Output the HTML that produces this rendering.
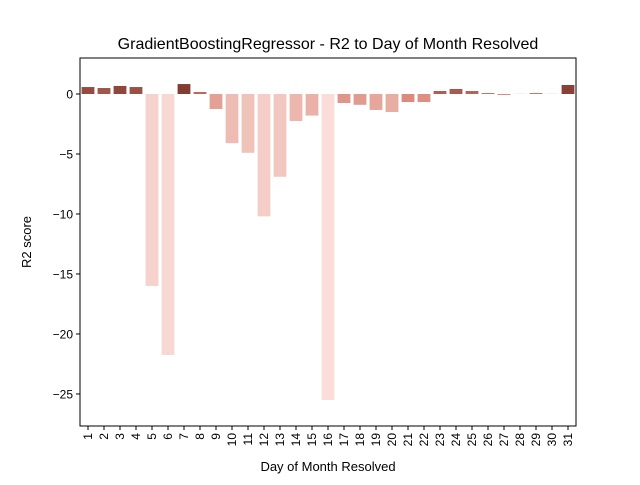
<!DOCTYPE html>
<html><head><meta charset="utf-8"><style>
body{margin:0;background:#fff;font-family:"Liberation Sans","DejaVu Sans",sans-serif}
</style></head><body>
<svg id="c" width="640" height="480" xmlns="http://www.w3.org/2000/svg">
<text x="328" y="49" text-anchor="middle" font-size="16">GradientBoostingRegressor - R2 to Day of Month Resolved</text>
<g id="bars"></g><g id="ticks"></g>
<rect x="80" y="58" width="496" height="368" fill="none" stroke="#000" stroke-width="1"/>
<text x="328" y="471" text-anchor="middle" font-size="13">Day of Month Resolved</text>
<text transform="translate(31,242) rotate(-90)" text-anchor="middle" font-size="13">R2 score</text>
</svg>
<script>
const days=[1,2,3,4,5,6,7,8,9,10,11,12,13,14,15,16,17,18,19,20,21,22,23,24,25,26,27,28,29,30,31];
const scores=[0.58,0.5,0.67,0.58,-16,-21.75,0.83,0.17,-1.25,-4.1,-4.9,-10.2,-6.9,-2.25,-1.8,-25.5,-0.75,-0.9,-1.33,-1.5,-0.67,-0.67,0.25,0.42,0.25,0.08,-0.08,0.01,0.08,0.01,0.75];
const yTicks=[0,-5,-10,-15,-20,-25];
const L=80,R=576,T=58,B=426,yMax=3,yMin=-27.67;
const ys=v=>T+(yMax-v)/(yMax-yMin)*(B-T);
const band=(R-L)/days.length;
const xs=i=>L+band*i+band/2;
const svg="http://www.w3.org/2000/svg";
const bars=document.getElementById('bars'),tk=document.getElementById('ticks');
const order=scores.map((v,i)=>i).sort((a,b)=>scores[b]-scores[a]);
const rank=[];order.forEach((idx,r)=>rank[idx]=r/(scores.length-1));
const stops=[[0x84,0x3b,0x31],[0xda,0x8b,0x7e],[0xfa,0xdd,0xd8]];
function col(t){const s=t<0.5?0:1,f=t<0.5?t*2:(t-0.5)*2;const a=stops[s],b=stops[s+1];return `rgb(${a.map((c,k)=>Math.round(c+(b[k]-c)*f)).join(',')})`;}
scores.forEach((v,i)=>{
 const r=document.createElementNS(svg,'rect');
 const y0=ys(0),y1=ys(v);
 r.setAttribute('x',xs(i)-band*0.4);r.setAttribute('width',band*0.8);
 r.setAttribute('y',Math.min(y0,y1));r.setAttribute('height',Math.abs(y1-y0));
 r.setAttribute('fill',col(rank[i]));
 
 
 bars.appendChild(r);
 const l=document.createElementNS(svg,'line');
 l.setAttribute('x1',xs(i));l.setAttribute('x2',xs(i));l.setAttribute('y1',B);l.setAttribute('y2',B+4);l.setAttribute('stroke','#000');
 tk.appendChild(l);
 const t=document.createElementNS(svg,'text');
 t.setAttribute('transform',`translate(${xs(i)+4},${B+7}) rotate(-90)`);
 t.setAttribute('text-anchor','end');t.setAttribute('font-size','12');t.textContent=days[i];
 
 
 tk.appendChild(t);
});
yTicks.forEach(v=>{
 const l=document.createElementNS(svg,'line');
 l.setAttribute('x1',L-4);l.setAttribute('x2',L);l.setAttribute('y1',ys(v));l.setAttribute('y2',ys(v));l.setAttribute('stroke','#000');
 tk.appendChild(l);
 const t=document.createElementNS(svg,'text');
 t.setAttribute('x',L-7);t.setAttribute('y',ys(v)+4.5);t.setAttribute('text-anchor','end');t.setAttribute('font-size','12');
 t.textContent=v<0?'\u2212'+Math.abs(v):v;
 
 
 tk.appendChild(t);
});
</script>
</body></html>
